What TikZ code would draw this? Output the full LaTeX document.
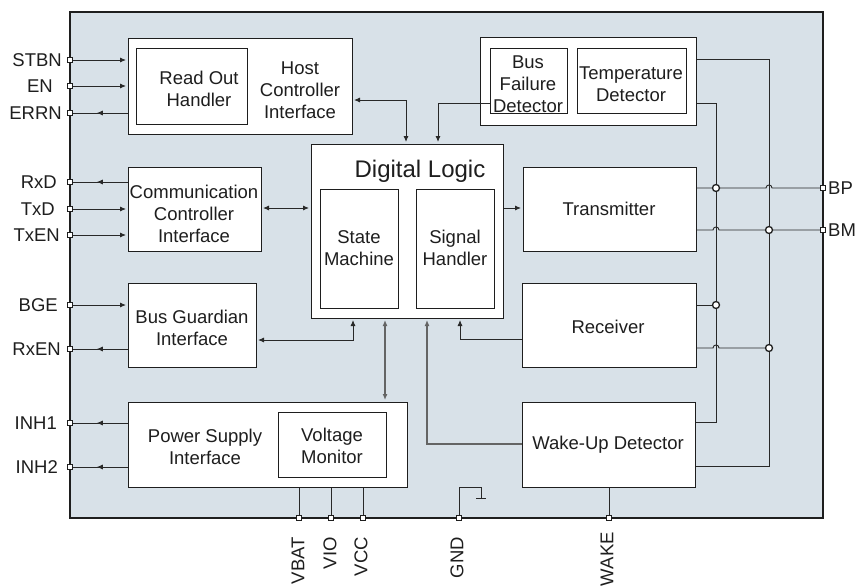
\documentclass[tikz,border=0pt]{standalone}
\usepackage{fontspec}
\setmainfont{Liberation Sans}
\usetikzlibrary{arrows.meta,fit,decorations.markings}

\definecolor{chipfill}{RGB}{216,225,232}
\definecolor{ink}{RGB}{30,30,30}
\definecolor{wirec}{RGB}{40,40,40}
\definecolor{greywire}{RGB}{100,100,100}

\tikzset{
  blk/.style={draw=ink, fill=white, line width=1pt, inner sep=0pt},
  txt/.style={align=center, font=\fontsize{18.5}{22}\selectfont, text=ink, inner sep=0pt},
  pinbox/.style={draw=ink, fill=white, rectangle, minimum size=4.5pt, inner sep=0pt, line width=0.7pt},
  jdot/.style={circle, draw=ink, fill=white, minimum size=7pt, inner sep=0pt, line width=1.3pt},
  wire/.style={draw=wirec, line width=0.9pt},
  gwire/.style={draw=greywire, line width=1.4pt},
  ahead/.tip={Latex[length=6pt,width=5pt]},
  into/.style={-ahead, shorten >=1.5pt},
  both/.style={ahead-ahead, shorten >=1.5pt, shorten <=1.5pt},
  outof/.style={wire, postaction=decorate,
    decoration={markings, mark=at position 0.56 with {\arrow{ahead}}}},
}

\begin{document}
\begin{tikzpicture}[x=1pt, y=-1pt]
\useasboundingbox (0,0) rectangle (858,586);

% chip outline
\node[fit={(70,12) (823,518)}, fill=chipfill, draw=ink, line width=1.2pt, inner sep=0pt] (chip) {};

% functional blocks
\node[blk, fit={(128,39) (352,134)}] (hci) {};
\node[blk, fit={(136,49) (247,124)}] (roh) {};
\node[blk, fit={(480,38) (696,125)}] (grp) {};
\node[blk, fit={(490,49) (567,113)}] (bfd) {};
\node[blk, fit={(577,49) (686,113)}] (tmp) {};
\node[blk, fit={(128,167) (261,251)}] (cci) {};
\node[blk, fit={(128,283) (256,367)}] (bg) {};
\node[blk, fit={(311,144) (503,318)}] (dl) {};
\node[blk, fit={(320,189) (398,308)}] (sm) {};
\node[blk, fit={(416,189) (494,308)}] (sh) {};
\node[blk, fit={(523,167) (696,251)}] (tx) {};
\node[blk, fit={(522,283) (696,367)}] (rx) {};
\node[blk, fit={(522,402) (695,487)}] (wud) {};
\node[blk, fit={(128,402) (407,487)}] (psi) {};
\node[blk, fit={(278,412) (386,477)}] (vm) {};

% block texts
\node[txt] (troh) at (199,89) {Read Out\\Handler};
\node[txt] (thci) at (300,90) {Host\\Controller\\Interface};
\node[txt] (tbfd) at (528,84) {Bus\\Failure\\Detector};
\node[txt] (ttmp) at (631,84) {Temperature\\Detector};
\node[txt] (tcci) at (194,214) {Communication\\Controller\\Interface};
\node[txt] (tbg) at (192,328) {Bus Guardian\\Interface};
\node[txt, font=\fontsize{24}{28}\selectfont, anchor=base] (tdl) at (420,177) {Digital Logic};
\node[txt] (tsm) at (359,248) {State\\Machine};
\node[txt] (tsh) at (455,248) {Signal\\Handler};
\node[txt, anchor=base] (ttx) at (609,215) {Transmitter};
\node[txt, anchor=base] (trx) at (608,333) {Receiver};
\node[txt, anchor=base] (twud) at (608,449) {Wake-Up Detector};
\node[txt] (tpsi) at (205,447) {Power Supply\\Interface};
\node[txt] (tvm) at (332,446) {Voltage\\Monitor};

% pins on the chip border
\foreach \n/\y in {STBN/60, EN/86, ERRN/113, RxD/182, TxD/209, TxEN/235, BGE/305, RxEN/349, INH1/423, INH2/467}
  \node[pinbox] (p\n) at (70,\y) {};
\foreach \n/\x in {VBAT/299, VIO/331, VCC/363, GND/459, WAKE/609}
  \node[pinbox] (p\n) at (\x,518) {};
\node[pinbox] (pBP) at (823,188) {};
\node[pinbox] (pBM) at (823,230) {};

% pin names
\foreach \n/\x/\y in {STBN/62/60, EN/53/86, ERRN/62/113, RxD/57/182, TxD/55/209, TxEN/60/235, BGE/58/305, RxEN/61/349, INH1/57/423, INH2/58/467}
  \node[txt, anchor=east] (l\n) at (\x,\y) {\n};
\foreach \n/\x/\y in {VBAT/298/537, VIO/330/537, VCC/361/537, GND/457/537, WAKE/607/532}
  \node[txt, anchor=east, rotate=90] (l\n) at (\x,\y) {\n};
\node[txt, anchor=west] (lBP) at (828,188) {BP};
\node[txt, anchor=west] (lBM) at (828,230) {BM};

% host side signals
\draw[wire, into] (pSTBN) -- (hci.west |- pSTBN);
\draw[wire, into] (pEN) -- (hci.west |- pEN);
\draw[outof] (hci.west |- pERRN) -- (pERRN);
\draw[outof] (cci.west |- pRxD) -- (pRxD);
\draw[wire, into] (pTxD) -- (cci.west |- pTxD);
\draw[wire, into] (pTxEN) -- (cci.west |- pTxEN);
\draw[wire, into] (pBGE) -- (bg.west |- pBGE);
\draw[outof] (bg.west |- pRxEN) -- (pRxEN);
\draw[outof] (psi.west |- pINH1) -- (pINH1);
\draw[outof] (psi.west |- pINH2) -- (pINH2);

% links to the digital logic
\draw[wire, both] (hci.east |- 0,100) -| (dl.north -| 406,0);
\draw[wire, into] (bfd.west |- 0,103) -| (dl.north -| 438,0);
\draw[wire, both] (cci.east |- 0,208) -- (dl.west |- 0,208);
\draw[wire, into] (dl.east |- 0,208) -- (tx.west |- 0,208);
\draw[wire, both] (bg.east |- 0,340) -| (dl.south -| 353,0);
\draw[gwire, both] (dl.south -| 385,0) -- (psi.north -| 385,0);
\draw[gwire, into] (wud.west |- 0,444) -| (dl.south -| 427,0);
\draw[wire, into] (rx.west |- 0,339) -| (dl.south -| 460,0);

% bus lines with crossings
\draw[wire] (tx.east |- 0,188) -- (766,188) .. controls (766,184) and (772,184) .. (772,188) -- (pBP);
\draw[wire] (tx.east |- 0,230) -- (713,230) .. controls (713,226) and (719,226) .. (719,230) -- (pBM);
\draw[wire] (rx.east |- 0,305) -- (716,305);
\draw[wire] (rx.east |- 0,348) -- (713,348) .. controls (713,344) and (719,344) .. (719,348) -- (769,348);
\draw[wire] (grp.east |- 0,103) -- (716,103) -- (716,422) -- (wud.east |- 0,422);
\draw[wire] (grp.east |- 0,59) -- (769,59) -- (769,466) -- (wud.east |- 0,466);

% supply, ground and wake pins
\draw[wire] (psi.south -| pVBAT) -- (pVBAT);
\draw[wire] (psi.south -| pVIO) -- (pVIO);
\draw[wire] (psi.south -| pVCC) -- (pVCC);
\draw[wire] (wud.south -| pWAKE) -- (pWAKE);
\coordinate (gndbar) at (481,498);
\draw[wire] (pGND) -- (459,487) -| (gndbar);
\draw[wire] ([xshift=-5pt]gndbar) -- ([xshift=5pt]gndbar);

% junctions
\node[jdot] (j1) at (716,188) {};
\node[jdot] (j2) at (769,230) {};
\node[jdot] (j3) at (716,305) {};
\node[jdot] (j4) at (769,348) {};
\end{tikzpicture}
\end{document}
